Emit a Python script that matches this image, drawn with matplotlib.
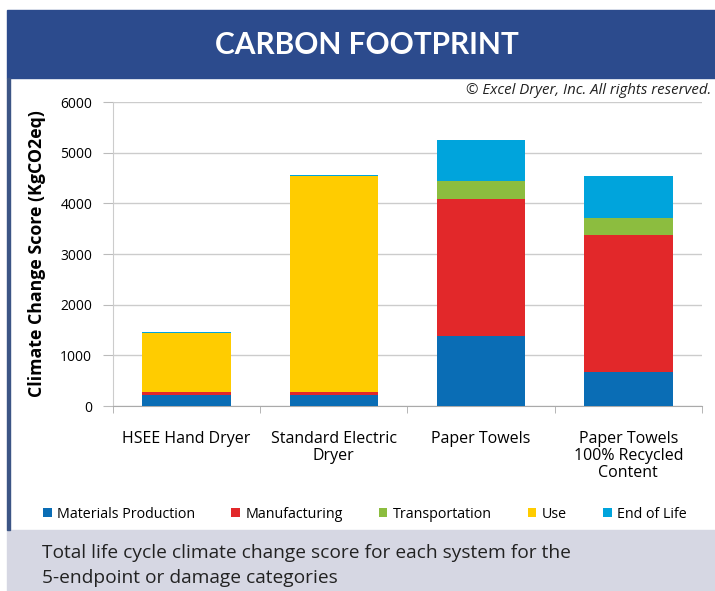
import numpy as np
import matplotlib
matplotlib.use("Agg")
import matplotlib.pyplot as plt
from matplotlib.patches import Rectangle

plt.rcParams['font.family'] = ['Open Sans', 'DejaVu Sans']

systems = ['HSEE Hand Dryer', 'Standard Electric\nDryer', 'Paper Towels',
           'Paper Towels\n100% Recycled\nContent']
stages = ['Materials Production', 'Manufacturing', 'Transportation', 'Use', 'End of Life']
materials = [220, 215, 1380, 670]
manufacturing = [55, 60, 2700, 2700]
transportation = [5, 10, 360, 335]
use = [1165, 4255, 0, 0]
end_of_life = [15, 15, 810, 830]
stage_colors = ['#0A6DB5', '#E2282A', '#8CBD3F', '#FFCC00', '#00A4DC']


def draw_chart():
    fig = plt.figure(figsize=(7.15, 5.91), dpi=100)
    W, H = 715.0, 591.0

    # header band, footer band and the thin left border between them
    fig.patches.append(Rectangle((7 / W, 1 - 78 / H), 1, 68 / H, transform=fig.transFigure,
                                 color='#2C4B8D', zorder=0))
    fig.patches.append(Rectangle((7 / W, 0), 1, 61 / H, transform=fig.transFigure,
                                 color='#D6D7E3', zorder=0))
    fig.patches.append(Rectangle((7 / W, 61 / H), 2.5 / W, (530 - 78) / H,
                                 transform=fig.transFigure, color='#3C5585', zorder=0))
    fig.text(367 / W, 1 - 45 / H, 'CARBON FOOTPRINT', color='white', fontsize=21.5,
             fontweight='bold', ha='center', va='center', family=['Lato', 'DejaVu Sans'])
    fig.text(711 / W, 1 - 90 / H, '\u00a9 Excel Dryer, Inc. All rights reserved.',
             fontsize=10.8, style='italic', ha='right', va='center', color='#222222')

    ax = fig.add_axes([113 / W, 1 - 406 / H, 589 / W, 304 / H])
    x = np.arange(len(systems))
    bottom = np.zeros(len(systems))
    series = [materials, manufacturing, transportation, use, end_of_life]
    for name, vals, col in zip(stages, series, stage_colors):
        ax.bar(x, vals, 0.6, bottom=bottom, color=col, label=name, zorder=3)
        bottom += np.array(vals)

    ax.set_xlim(-0.5, len(systems) - 0.5)
    ax.set_ylim(0, 6000)
    ax.set_yticks(np.arange(0, 6001, 1000))
    ax.set_xticks(x)
    ax.set_xticklabels(systems, fontsize=11.5, linespacing=1.1)
    ax.set_xticks(np.arange(-0.5, len(systems)), minor=True)
    ax.tick_params(axis='x', which='major', length=0, pad=18)
    ax.tick_params(axis='x', which='minor', length=5, color='#AAAAAA')
    ax.tick_params(axis='y', length=7, color='#BBBBBB', labelsize=10, pad=8)
    ax.grid(axis='y', color='#CCCCCC', linewidth=1, zorder=0)
    for s in ['top', 'right']:
        ax.spines[s].set_visible(False)
    ax.spines['left'].set_color('#CCCCCC')
    ax.spines['bottom'].set_color('#AAAAAA')
    ax.set_ylabel('Climate Change Score (KgCO2eq)', fontsize=12.8, fontweight='bold', labelpad=10)

    fig.legend(loc='center', bbox_to_anchor=(365 / W, 1 - 514 / H), ncol=5, frameon=False,
               fontsize=10.3, handlelength=0.6, handleheight=0.6, handletextpad=0.4,
               columnspacing=2.5)

    fig.text(42 / W, 1 - 553 / H, 'Total life cycle climate change score for each system for the',
             fontsize=13.8, va='center', color='#222222')
    fig.text(42 / W, 1 - 578 / H, '5-endpoint or damage categories',
             fontsize=13.8, va='center', color='#222222')

    fig.savefig('out.png', dpi=100)


def main():
    draw_chart()


if __name__ == "__main__":
    main()
